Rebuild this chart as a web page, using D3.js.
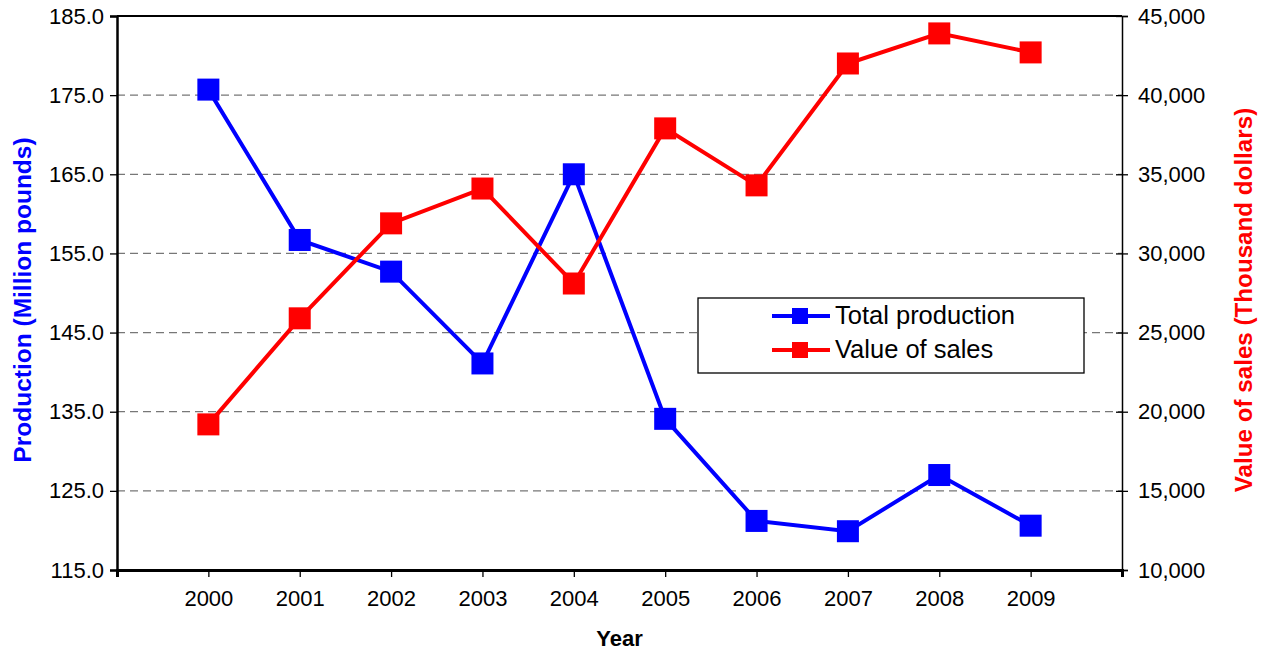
<!DOCTYPE html>
<html>
<head>
<meta charset="utf-8">
<script src="https://cdn.jsdelivr.net/npm/d3@7"></script>
<style>
  body { margin: 0; background: #fff; }
  svg text { font-family: "Liberation Sans", Arial, sans-serif; }
</style>
</head>
<body>
<div id="chart"></div>
<script>
var years = [2000, 2001, 2002, 2003, 2004, 2005, 2006, 2007, 2008, 2009];
var production = [175.7, 156.7, 152.7, 141.1, 165.0, 134.1, 121.2, 119.9, 127.0, 120.6];
var sales = [19200, 25900, 31900, 34100, 28100, 37900, 34300, 42000, 43900, 42700];
var leftTicks = [115, 125, 135, 145, 155, 165, 175, 185];
var rightTicks = [10000, 15000, 20000, 25000, 30000, 35000, 40000, 45000];

var width = 1265, height = 653;
var m = { left: 117, right: 1122, top: 16, bottom: 570 };

var svg = d3.select("#chart").append("svg")
    .attr("width", width)
    .attr("height", height);

var x = d3.scaleLinear().domain([1999, 2010]).range([m.left, m.right]);
var yL = d3.scaleLinear().domain([115, 185]).range([m.bottom, m.top]);
var yR = d3.scaleLinear().domain([10000, 45000]).range([m.bottom, m.top]);

// gridlines
svg.append("g").selectAll("line")
    .data(leftTicks.slice(1, -1))
    .enter().append("line")
    .attr("x1", m.left).attr("x2", m.right)
    .attr("y1", function(d) { return yL(d); })
    .attr("y2", function(d) { return yL(d); })
    .attr("stroke", "#777")
    .attr("stroke-width", 1.3)
    .attr("stroke-dasharray", "8,5");

// top border
svg.append("line")
    .attr("x1", m.left).attr("x2", m.right)
    .attr("y1", m.top).attr("y2", m.top)
    .attr("stroke", "#000").attr("stroke-width", 2);

// left axis
var axL = svg.append("g")
    .attr("transform", "translate(" + m.left + ",0)")
    .call(d3.axisLeft(yL).tickValues(leftTicks).tickFormat(d3.format(".1f")).tickSize(7).tickPadding(6));

// right axis
var axR = svg.append("g")
    .attr("transform", "translate(" + m.right + ",0)")
    .call(d3.axisRight(yR).tickValues(rightTicks).tickFormat(d3.format(",")).tickSize(6).tickPadding(10));
axR.selectAll(".tick line").attr("x1", -6);

// bottom axis
var xTicks = d3.range(1999, 2011);
var axB = svg.append("g")
    .attr("transform", "translate(0," + m.bottom + ")")
    .call(d3.axisBottom(x).tickValues(xTicks)
        .tickFormat(function(d) { return years.indexOf(d) >= 0 ? d : ""; })
        .tickSize(7).tickPadding(13));

[axL, axR, axB].forEach(function(a) {
    a.selectAll("text").attr("font-size", 22).attr("fill", "#000")
        .attr("font-family", "Liberation Sans, Arial, sans-serif");
    a.selectAll(".tick line").attr("stroke", "#000").attr("stroke-width", 1.3);
});
axL.select(".domain").attr("stroke", "#000").attr("stroke-width", 2.5);
axR.select(".domain").attr("stroke", "#000").attr("stroke-width", 1.5);
axB.select(".domain").attr("stroke", "#000").attr("stroke-width", 3);

// series
function drawSeries(vals, yScale, color) {
    var line = d3.line()
        .x(function(d, i) { return x(years[i]); })
        .y(function(d) { return yScale(d); });
    svg.append("path")
        .datum(vals)
        .attr("d", line)
        .attr("fill", "none")
        .attr("stroke", color)
        .attr("stroke-width", 4);
    svg.append("g").selectAll("rect")
        .data(vals)
        .enter().append("rect")
        .attr("x", function(d, i) { return x(years[i]) - 11; })
        .attr("y", function(d) { return yScale(d) - 11; })
        .attr("width", 22).attr("height", 22)
        .attr("fill", color);
}
drawSeries(production, yL, "#0000ff");
drawSeries(sales, yR, "#ff0000");

// axis titles
svg.append("text")
    .attr("transform", "translate(31,300) rotate(-90)")
    .attr("text-anchor", "middle")
    .attr("font-size", 24.5).attr("font-weight", "bold")
    .attr("fill", "#0000ff")
    .text("Production (Million pounds)");

svg.append("text")
    .attr("transform", "translate(1252,300) rotate(-90)")
    .attr("text-anchor", "middle")
    .attr("font-size", 24.2).attr("font-weight", "bold")
    .attr("fill", "#ff0000")
    .text("Value of sales (Thousand dollars)");

svg.append("text")
    .attr("x", (m.left + m.right) / 2).attr("y", 646)
    .attr("text-anchor", "middle")
    .attr("font-size", 22).attr("font-weight", "bold")
    .text("Year");

// legend
var leg = svg.append("g").attr("transform", "translate(698,298)");
leg.append("rect")
    .attr("width", 386).attr("height", 75)
    .attr("fill", "#fff").attr("stroke", "#000").attr("stroke-width", 1.3);
var legItems = [["Total production", "#0000ff"], ["Value of sales", "#ff0000"]];
legItems.forEach(function(it, i) {
    var cy = 18 + i * 34;
    leg.append("line")
        .attr("x1", 74).attr("x2", 132)
        .attr("y1", cy).attr("y2", cy)
        .attr("stroke", it[1]).attr("stroke-width", 4);
    leg.append("rect")
        .attr("x", 94).attr("y", cy - 8)
        .attr("width", 16).attr("height", 16)
        .attr("fill", it[1]);
    leg.append("text")
        .attr("x", 137).attr("y", cy + 8)
        .attr("font-size", 25.5).attr("fill", "#000")
        .text(it[0]);
});
</script>
</body>
</html>
